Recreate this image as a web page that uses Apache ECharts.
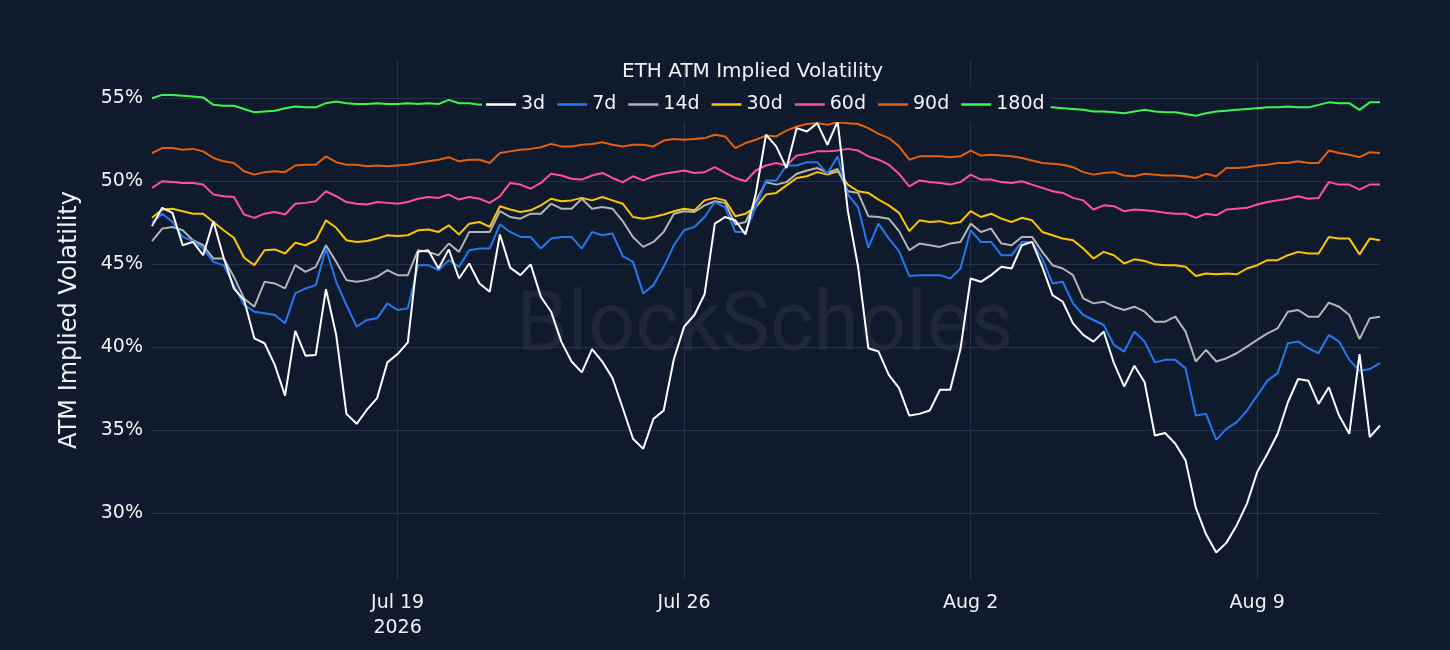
<!DOCTYPE html>
<html>
<head>
<meta charset="utf-8">
<title>ETH ATM Implied Volatility</title>
<script src="https://cdn.jsdelivr.net/npm/echarts@6/dist/echarts.min.js"></script>
<style>
  html, body { margin: 0; padding: 0; background: #101a2d; }
  #chart { width: 1450px; height: 650px; }
</style>
</head>
<body>
<div id="chart"></div>
<script>
// samples every 6 hours, from 13 Jul 2026 00:00 UTC to 12 Aug 2026 00:00 UTC
const startTime = Date.UTC(2026, 6, 13);
const stepMs = 6 * 3600 * 1000;

const seriesNames = ["3d", "7d", "14d", "30d", "60d", "90d", "180d"];
const seriesColors = ["#ffffff", "#2478f0", "#b4b4b4", "#ffc400", "#ff4fa3", "#e5600c", "#3cf553"];

const vol3d = [
  47.3, 48.4, 48.1, 46.15, 46.35, 45.55, 47.6, 45.4, 43.55, 42.85, 40.55, 40.25, 38.95, 37.1, 41.0, 39.5, 39.55, 43.5, 40.75, 36.0, 35.4, 36.25, 36.95, 39.1, 39.6,
  40.3, 45.75, 45.85, 44.75, 45.9, 44.15, 45.05, 43.85, 43.35, 46.8, 44.8, 44.35, 45.0, 43.05, 42.15, 40.35, 39.15, 38.5, 39.9, 39.15, 38.15, 36.35, 34.5, 33.9,
  35.7, 36.2, 39.3, 41.25, 41.95, 43.2, 47.45, 47.85, 47.65, 46.8, 49.25, 52.8, 52.1, 50.8, 53.2, 53.0, 53.5, 52.2, 53.6, 48.2, 44.85, 39.95, 39.75, 38.35,
  37.55, 35.9, 36.0, 36.2, 37.45, 37.45, 39.9, 44.15, 43.95, 44.35, 44.85, 44.75, 46.15, 46.35, 44.85, 43.15, 42.75, 41.45, 40.75, 40.35, 40.95, 39.05, 37.65, 38.9,
  37.9, 34.7, 34.85, 34.2, 33.2, 30.35, 28.75, 27.65, 28.25, 29.3, 30.6, 32.5, 33.6, 34.8, 36.7, 38.1, 38.0, 36.6, 37.6, 35.9, 34.8, 39.6, 34.6, 35.3
];
const vol7d = [
  47.5, 48.05, 47.55, 46.65, 46.4, 45.95, 45.15, 44.95, 43.75, 42.55, 42.15, 42.05, 41.95, 41.45, 43.25, 43.55, 43.75, 45.95, 43.95, 42.55, 41.25, 41.65, 41.75, 42.65, 42.25,
  42.35, 44.95, 44.95, 44.65, 45.25, 44.85, 45.85, 45.95, 45.95, 47.4, 46.95, 46.65, 46.65, 45.95, 46.55, 46.65, 46.65, 45.95, 46.95, 46.75, 46.85, 45.5, 45.15, 43.25,
  43.75, 44.85, 46.15, 47.05, 47.25, 47.85, 48.75, 48.45, 46.95, 46.95, 48.45, 50.05, 50.05, 50.95, 50.95, 51.15, 51.15, 50.45, 51.5, 49.2, 48.45, 46.0, 47.45, 46.55,
  45.8, 44.3, 44.35, 44.35, 44.35, 44.15, 44.75, 47.05, 46.35, 46.35, 45.55, 45.55, 46.35, 46.35, 45.35, 43.85, 43.95, 42.65, 41.95, 41.65, 41.35, 40.15, 39.75, 40.95,
  40.35, 39.1, 39.25, 39.25, 38.75, 35.9, 36.0, 34.45, 35.1, 35.5, 36.2, 37.1, 38.0, 38.45, 40.25, 40.35, 39.95, 39.65, 40.75, 40.35, 39.25, 38.6, 38.7, 39.05
];
const vol14d = [
  46.4, 47.15, 47.25, 47.05, 46.45, 46.15, 45.35, 45.35, 44.25, 42.95, 42.45, 43.95, 43.85, 43.55, 44.95, 44.55, 44.85, 46.15, 45.15, 44.05, 43.95, 44.05, 44.25, 44.65, 44.35,
  44.35, 45.85, 45.75, 45.55, 46.25, 45.75, 46.95, 46.95, 46.95, 48.2, 47.85, 47.75, 48.05, 48.05, 48.65, 48.35, 48.35, 48.95, 48.35, 48.45, 48.35, 47.6, 46.65, 46.05,
  46.35, 46.95, 48.05, 48.2, 48.15, 48.55, 48.8, 48.7, 47.4, 47.55, 48.8, 49.95, 49.8, 49.95, 50.45, 50.65, 50.8, 50.5, 50.75, 49.4, 49.3, 47.9, 47.85, 47.75,
  47.0, 45.85, 46.25, 46.15, 46.05, 46.25, 46.35, 47.45, 46.95, 47.15, 46.25, 46.15, 46.65, 46.65, 45.75, 44.95, 44.75, 44.35, 42.95, 42.65, 42.75, 42.45, 42.25, 42.45,
  42.15, 41.55, 41.55, 41.85, 40.95, 39.15, 39.85, 39.15, 39.35, 39.65, 40.05, 40.45, 40.85, 41.15, 42.15, 42.25, 41.85, 41.85, 42.7, 42.45, 41.95, 40.5, 41.75, 41.85
];
const vol30d = [
  47.8, 48.3, 48.35, 48.2, 48.05, 48.05, 47.55, 47.05, 46.6, 45.4, 44.95, 45.85, 45.9, 45.65, 46.3, 46.15, 46.45, 47.65, 47.2, 46.45, 46.35, 46.4, 46.55, 46.75, 46.7,
  46.75, 47.05, 47.1, 46.95, 47.35, 46.8, 47.45, 47.55, 47.25, 48.5, 48.3, 48.15, 48.25, 48.55, 48.95, 48.8, 48.85, 49.0, 48.85, 49.05, 48.85, 48.65, 47.85, 47.75,
  47.85, 48.0, 48.2, 48.35, 48.25, 48.85, 49.0, 48.85, 47.9, 48.05, 48.45, 49.2, 49.3, 49.75, 50.2, 50.3, 50.55, 50.4, 50.6, 49.8, 49.4, 49.3, 48.9, 48.55,
  48.1, 47.0, 47.65, 47.55, 47.6, 47.45, 47.55, 48.2, 47.85, 48.05, 47.75, 47.55, 47.8, 47.65, 46.95, 46.75, 46.55, 46.45, 45.95, 45.35, 45.75, 45.55, 45.05, 45.3,
  45.2, 45.0, 44.95, 44.95, 44.85, 44.3, 44.45, 44.4, 44.45, 44.4, 44.75, 44.95, 45.25, 45.25, 45.55, 45.75, 45.65, 45.65, 46.65, 46.55, 46.55, 45.6, 46.55, 46.45
];
const vol60d = [
  49.6, 50.0, 49.95, 49.9, 49.9, 49.8, 49.2, 49.1, 49.05, 48.0, 47.8, 48.05, 48.15, 48.0, 48.65, 48.7, 48.8, 49.4, 49.1, 48.75, 48.65, 48.6, 48.75, 48.7, 48.65,
  48.75, 48.95, 49.05, 49.0, 49.2, 48.9, 49.05, 48.95, 48.7, 49.1, 49.9, 49.8, 49.55, 49.9, 50.45, 50.35, 50.15, 50.1, 50.35, 50.5, 50.2, 49.95, 50.3, 50.05,
  50.3, 50.45, 50.55, 50.65, 50.5, 50.55, 50.85, 50.5, 50.2, 50.0, 50.65, 50.95, 51.1, 50.95, 51.55, 51.65, 51.8, 51.8, 51.85, 51.95, 51.85, 51.5, 51.3, 51.0,
  50.45, 49.7, 50.05, 49.95, 49.9, 49.8, 49.95, 50.4, 50.1, 50.1, 49.95, 49.9, 50.0, 49.8, 49.6, 49.4, 49.3, 49.0, 48.85, 48.3, 48.55, 48.5, 48.2, 48.3,
  48.25, 48.2, 48.1, 48.05, 48.05, 47.8, 48.05, 47.95, 48.3, 48.35, 48.4, 48.6, 48.75, 48.85, 48.95, 49.1, 48.95, 49.0, 49.95, 49.8, 49.8, 49.5, 49.8, 49.8
];
const vol90d = [
  51.7, 52.0, 52.0, 51.9, 51.95, 51.8, 51.4, 51.2, 51.1, 50.6, 50.4, 50.55, 50.6, 50.55, 50.95, 51.0, 51.0, 51.5, 51.15, 51.0, 51.0, 50.9, 50.95, 50.9, 50.95,
  51.0, 51.1, 51.2, 51.3, 51.45, 51.2, 51.3, 51.3, 51.1, 51.7, 51.8, 51.9, 51.95, 52.05, 52.25, 52.1, 52.1, 52.2, 52.25, 52.35, 52.2, 52.1, 52.2, 52.2,
  52.1, 52.45, 52.55, 52.5, 52.55, 52.6, 52.8, 52.7, 52.0, 52.3, 52.5, 52.75, 52.7, 53.05, 53.3, 53.45, 53.5, 53.4, 53.55, 53.5, 53.45, 53.2, 52.85, 52.6,
  52.1, 51.3, 51.5, 51.5, 51.5, 51.45, 51.5, 51.85, 51.55, 51.6, 51.55, 51.5, 51.4, 51.25, 51.1, 51.05, 51.0, 50.85, 50.55, 50.4, 50.5, 50.55, 50.35, 50.3,
  50.45, 50.4, 50.35, 50.35, 50.3, 50.2, 50.45, 50.3, 50.8, 50.8, 50.85, 50.95, 51.0, 51.1, 51.1, 51.2, 51.1, 51.1, 51.85, 51.7, 51.6, 51.45, 51.75, 51.7
];
const vol180d = [
  55.0, 55.2, 55.2, 55.15, 55.1, 55.05, 54.6, 54.55, 54.55, 54.35, 54.15, 54.2, 54.25, 54.4, 54.5, 54.45, 54.45, 54.7, 54.8, 54.7, 54.65, 54.65, 54.7, 54.65, 54.65,
  54.7, 54.65, 54.7, 54.65, 54.9, 54.7, 54.7, 54.6, 54.7, 54.75, 54.8, 54.85, 54.9, 55.0, 54.95, 55.05, 55.1, 55.05, 55.15, 55.2, 55.15, 55.25, 55.2, 55.3,
  55.3, 55.35, 55.3, 55.4, 55.35, 55.4, 55.45, 55.4, 55.45, 55.4, 55.45, 55.5, 55.45, 55.4, 55.45, 55.4, 55.45, 55.5, 55.4, 55.35, 55.3, 55.25, 55.2, 55.1,
  55.0, 54.95, 54.9, 54.85, 54.8, 54.75, 54.7, 54.65, 54.6, 54.6, 54.55, 54.55, 54.5, 54.55, 54.5, 54.45, 54.4, 54.35, 54.3, 54.2, 54.2, 54.15, 54.1, 54.2,
  54.3, 54.2, 54.15, 54.15, 54.05, 53.95, 54.1, 54.2, 54.25, 54.3, 54.35, 54.4, 54.45, 54.45, 54.5, 54.45, 54.45, 54.6, 54.75, 54.7, 54.7, 54.3, 54.75, 54.75
];
const seriesValues = [vol3d, vol7d, vol14d, vol30d, vol60d, vol90d, vol180d];

// x ticks (weekly) and y ticks
const xTickTimes = [Date.UTC(2026, 6, 19), Date.UTC(2026, 6, 26), Date.UTC(2026, 7, 2), Date.UTC(2026, 7, 9)];
const xTickLabels = ["Jul 19\n2026", "Jul 26", "Aug 2", "Aug 9"];
const yTickValues = [30, 35, 40, 45, 50, 55];

const bgColor = "#101a2d";
const gridColor = "#25324c";
const textColor = "#f2f2f2";
const fontFamily = "DejaVu Sans, Verdana, sans-serif";

const chart = echarts.init(document.getElementById("chart"));

const series = seriesNames.map((name, k) => ({
  name: name,
  type: "line",
  showSymbol: false,
  symbol: "none",
  data: seriesValues[k].map((v, i) => [startTime + i * stepMs, v]),
  lineStyle: { color: seriesColors[k], width: 2 },
  itemStyle: { color: seriesColors[k] },
  z: 10 - k
}));

chart.setOption({
  backgroundColor: bgColor,
  textStyle: { fontFamily: fontFamily },
  animation: false,
  title: {
    text: "ETH ATM Implied Volatility",
    left: 622,
    top: 62,
    padding: 0,
    textStyle: { color: textColor, fontSize: 20, fontWeight: "normal", fontFamily: fontFamily }
  },
  // legend box painted over the lines, like the original
  legend: {
    data: seriesNames,
    left: 482,
    top: 87,
    z: 50,
    padding: [8, 6, 8, 4],
    backgroundColor: bgColor,
    icon: "rect",
    itemWidth: 30,
    itemHeight: 2.5,
    itemGap: 12,
    textStyle: { color: textColor, fontSize: 19, fontFamily: fontFamily }
  },
  graphic: [{
    type: "text",
    left: 516,
    top: 288,
    z: 0,
    silent: true,
    style: {
      text: "BlockScholes",
      fill: "rgba(255,255,255,0.06)",
      font: "83px Roboto, sans-serif"
    }
  }],
  grid: { left: 152, right: 70, top: 60, bottom: 70 },
  // plain numeric axis holding UTC timestamps, so the weekly ticks can be placed exactly
  xAxis: {
    type: "value",
    min: startTime,
    max: startTime + (vol3d.length - 1) * stepMs,
    axisLine: { show: false },
    axisTick: { show: false, customValues: xTickTimes },
    splitLine: { show: true, lineStyle: { color: gridColor, width: 1 } },
    axisLabel: {
      customValues: xTickTimes,
      color: textColor,
      fontSize: 19,
      lineHeight: 25,
      margin: 11,
      formatter: (value) => {
        const k = xTickTimes.indexOf(value);
        return k >= 0 ? xTickLabels[k] : "";
      }
    }
  },
  yAxis: {
    type: "value",
    min: 26,
    max: 57.3,
    name: "ATM Implied Volatility",
    nameLocation: "middle",
    nameGap: 70,
    nameTextStyle: { color: textColor, fontSize: 24 },
    axisLine: { show: false },
    axisTick: { show: false, customValues: yTickValues },
    splitLine: { show: true, lineStyle: { color: gridColor, width: 1 } },
    axisLabel: {
      customValues: yTickValues,
      color: textColor,
      fontSize: 19,
      margin: 9,
      formatter: (v) => v + "%"
    }
  },
  series: series
});
</script>
</body>
</html>
